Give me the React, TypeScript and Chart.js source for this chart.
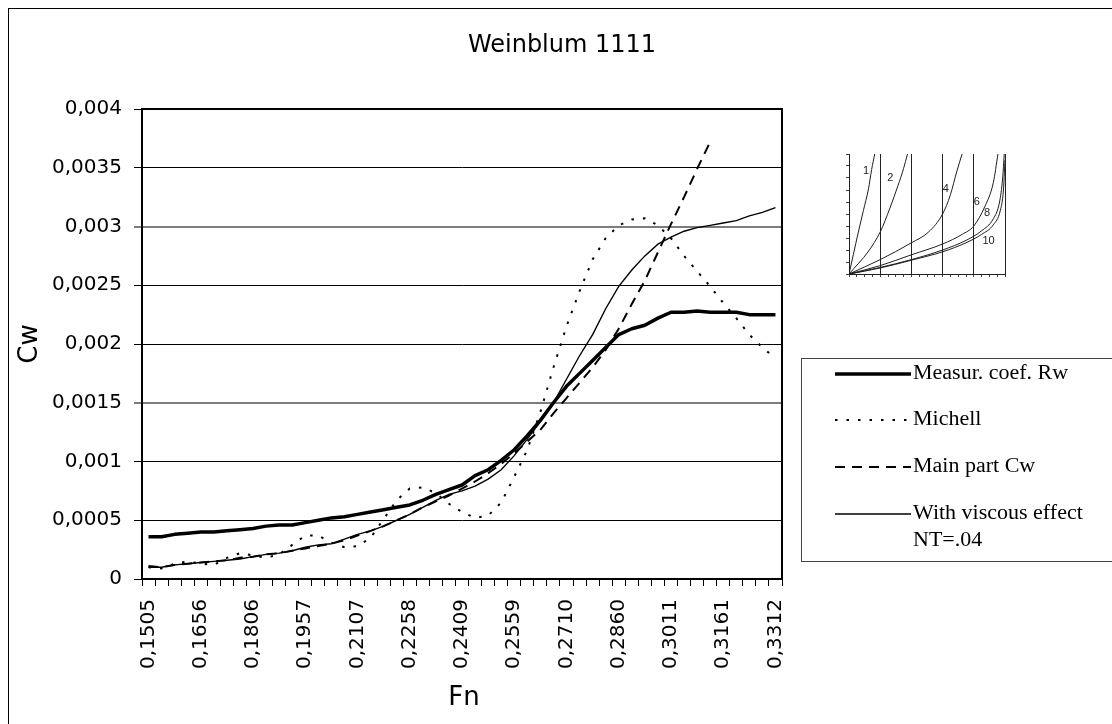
import React, { useEffect, useRef } from 'react';
import { Chart, registerables } from 'chart.js';

Chart.register(...registerables);

// Froude numbers (category axis), every fourth one is labelled
const fnLabels = [
  '0,1505', '0,1543', '0,1580', '0,1618', '0,1656', '0,1693', '0,1731', '0,1769', '0,1806', '0,1844',
  '0,1881', '0,1919', '0,1957', '0,1994', '0,2032', '0,2070', '0,2107', '0,2145', '0,2183', '0,2220',
  '0,2258', '0,2296', '0,2333', '0,2371', '0,2409', '0,2446', '0,2484', '0,2521', '0,2559', '0,2597',
  '0,2634', '0,2672', '0,2710', '0,2747', '0,2785', '0,2823', '0,2860', '0,2898', '0,2936', '0,2973',
  '0,3011', '0,3048', '0,3086', '0,3124', '0,3161', '0,3199', '0,3237', '0,3274', '0,3312',
];

const yTickValues = [0, 0.0005, 0.001, 0.0015, 0.002, 0.0025, 0.003, 0.0035, 0.004];
const yTickLabels = ['0', '0,0005', '0,001', '0,0015', '0,002', '0,0025', '0,003', '0,0035', '0,004'];

// Wave resistance coefficient series
const measured = [
  0.00036, 0.00036, 0.00038, 0.00039, 0.00040, 0.00040, 0.00041, 0.00042, 0.00043, 0.00045,
  0.00046, 0.00046, 0.00048, 0.00050, 0.00052, 0.00053, 0.00055, 0.00057, 0.00059, 0.00061,
  0.00063, 0.00067, 0.00072, 0.00076, 0.00080, 0.00088, 0.00093, 0.00101, 0.00110, 0.00122,
  0.00135, 0.00150, 0.00164, 0.00175, 0.00186, 0.00197, 0.00208, 0.00213, 0.00216, 0.00222,
  0.00227, 0.00227, 0.00228, 0.00227, 0.00227, 0.00227, 0.00225, 0.00225, 0.00225,
];

const michell = [
  0.00010, 0.00009, 0.00013, 0.00015, 0.00013, 0.00012, 0.00018, 0.00022, 0.00020, 0.00018,
  0.00021, 0.00029, 0.00037, 0.00037, 0.00031, 0.00027, 0.00028, 0.00035, 0.00051, 0.00067,
  0.00077, 0.00078, 0.00073, 0.00064, 0.00057, 0.00052, 0.00054, 0.00065, 0.00087, 0.00110,
  0.00142, 0.00180, 0.00215, 0.00245, 0.00272, 0.00290, 0.00301, 0.00306, 0.00307, 0.00301,
  0.00290, 0.00275, 0.00262, 0.00249, 0.00235, 0.00222, 0.00208, 0.00197, 0.00188,
];

const mainPart = [
  0.00011, 0.00010, 0.00012, 0.00013, 0.00014, 0.00015, 0.00016, 0.00018, 0.00019, 0.00021,
  0.00022, 0.00024, 0.00026, 0.00028, 0.00030, 0.00033, 0.00037, 0.00041, 0.00045, 0.00050,
  0.00055, 0.00061, 0.00066, 0.00071, 0.00077, 0.00083, 0.00090, 0.00098, 0.00107, 0.00117,
  0.00127, 0.00141, 0.00154, 0.00167, 0.00180, 0.00195, 0.00213, 0.00234, 0.00254, 0.00278,
  0.00302, 0.00325, 0.00349, 0.00372, null, null, null, null, null,
];

const viscous = [
  0.00010, 0.00010, 0.00012, 0.00013, 0.00014, 0.00015, 0.00016, 0.00017, 0.00019, 0.00021,
  0.00022, 0.00024, 0.00027, 0.00029, 0.00030, 0.00034, 0.00038, 0.00041, 0.00045, 0.00050,
  0.00055, 0.00061, 0.00067, 0.00072, 0.00075, 0.00079, 0.00085, 0.00093, 0.00105, 0.00119,
  0.00134, 0.00150, 0.00170, 0.00190, 0.00208, 0.00230, 0.00249, 0.00263, 0.00275, 0.00285,
  0.00291, 0.00296, 0.00299, 0.00301, 0.00303, 0.00305, 0.00309, 0.00312, 0.00316,
];

const seriesLabels: string[][] = [
  ['Measur. coef. Rw'],
  ['Michell'],
  ['Main part Cw'],
  ['With viscous effect', 'NT=.04'],
];

// Small hull-section sketch: curves 1, 2, 4, 6, 8, 10
const curve1 = [{ x: 0, y: 0 }, { x: 0.55, y: 1.6 }, { x: 1.2, y: 3.5 }, { x: 1.85, y: 5.3 }, { x: 2.5, y: 7.1 }, { x: 2.9, y: 8.7 }, { x: 3.3, y: 10 }];
const curve2 = [{ x: 0, y: 0 }, { x: 2.5, y: 1.9 }, { x: 4, y: 3.5 }, { x: 5.25, y: 5.5 }, { x: 6.3, y: 7.4 }, { x: 7, y: 8.8 }, { x: 7.5, y: 10 }];
const curve4 = [{ x: 0, y: 0 }, { x: 4, y: 1.2 }, { x: 8, y: 2.6 }, { x: 10.2, y: 3.5 }, { x: 12, y: 5.0 }, { x: 13, y: 6.6 }, { x: 13.8, y: 8.5 }, { x: 14.5, y: 10 }];
const curve6 = [{ x: 0, y: 0 }, { x: 4, y: 0.7 }, { x: 8, y: 1.6 }, { x: 12, y: 2.5 }, { x: 14.5, y: 3.3 }, { x: 16, y: 4.0 }, { x: 17.4, y: 5.6 }, { x: 18.5, y: 7.6 }, { x: 19.1, y: 10 }];
const curve8 = [{ x: 0, y: 0 }, { x: 4, y: 0.55 }, { x: 8, y: 1.2 }, { x: 12, y: 2.0 }, { x: 15, y: 2.8 }, { x: 17, y: 3.6 }, { x: 18.5, y: 4.6 }, { x: 19.3, y: 6.0 }, { x: 19.7, y: 8.0 }, { x: 19.9, y: 10 }];
const curve10 = [{ x: 0, y: 0 }, { x: 4, y: 0.5 }, { x: 8, y: 1.15 }, { x: 12, y: 1.85 }, { x: 15, y: 2.6 }, { x: 17, y: 3.3 }, { x: 18.5, y: 4.1 }, { x: 19.4, y: 5.3 }, { x: 19.8, y: 7.0 }, { x: 20, y: 9.5 }];
const curveNames = ['1', '2', '4', '6', '8', '10'];
const curveNamePos = [{ x: 2.2, y: 8.6 }, { x: 5.3, y: 8.0 }, { x: 12.4, y: 7.1 }, { x: 16.4, y: 6.0 }, { x: 17.7, y: 5.1 }, { x: 17.9, y: 2.75 }];

const SANS = '"DejaVu Sans", "Liberation Sans", Arial, sans-serif';
const SERIF = '"Liberation Serif", "Times New Roman", serif';

const decorPlugin = {
  id: 'decor',
  afterDraw(chart: any) {
    const ctx: CanvasRenderingContext2D = chart.ctx;
    const a = chart.chartArea;
    ctx.save();

    // plot area frame
    ctx.strokeStyle = '#000';
    ctx.lineWidth = 2;
    ctx.setLineDash([]);
    ctx.strokeRect(a.left, a.top, a.right - a.left, a.bottom - a.top);

    // chart title and axis titles
    ctx.fillStyle = '#000';
    ctx.textAlign = 'center';
    ctx.textBaseline = 'middle';
    ctx.font = `24px ${SANS}`;
    ctx.fillText('Weinblum 1111', 553, 37);
    ctx.font = `26px ${SANS}`;
    ctx.fillText('Fn', (a.left + a.right) / 2 + 2, 689);
    ctx.save();
    ctx.translate(21, (a.top + a.bottom) / 2);
    ctx.rotate(-Math.PI / 2);
    ctx.fillText('Cw', 0, 0);
    ctx.restore();

    // legend box
    ctx.strokeStyle = '#444';
    ctx.lineWidth = 1;
    ctx.strokeRect(792.5, 349.5, 330, 203);

    const rows = [365, 411, 458, 505];
    chart.data.datasets.forEach((ds: any, i: number) => {
      const y = rows[i];
      ctx.save();
      ctx.strokeStyle = '#000';
      ctx.lineWidth = ds.borderWidth;
      ctx.setLineDash(ds.borderDash || []);
      ctx.beginPath();
      ctx.moveTo(826, y);
      ctx.lineTo(902, y);
      ctx.stroke();
      ctx.restore();
      seriesLabels[i].forEach((txt, k) => {
        ctx.save();
        ctx.translate(904, y + k * 27);
        ctx.scale(1.1, 1);
        ctx.font = `20px ${SERIF}`;
        ctx.fillStyle = '#000';
        ctx.textAlign = 'left';
        ctx.textBaseline = 'middle';
        ctx.fillText(txt, 0, 0);
        ctx.restore();
      });
    });
    ctx.restore();
  },
};

const insetLabelPlugin = {
  id: 'insetLabels',
  afterDraw(chart: any) {
    const ctx: CanvasRenderingContext2D = chart.ctx;
    const xs = chart.scales.x;
    const ys = chart.scales.y;
    ctx.save();
    ctx.fillStyle = '#222';
    ctx.font = `11px "Liberation Sans", Arial, sans-serif`;
    ctx.textAlign = 'center';
    ctx.textBaseline = 'middle';
    curveNames.forEach((n, i) => {
      ctx.fillText(n, xs.getPixelForValue(curveNamePos[i].x), ys.getPixelForValue(curveNamePos[i].y));
    });
    ctx.restore();
  },
};

export default function App() {
  const mainRef = useRef<HTMLCanvasElement>(null);
  const insetRef = useRef<HTMLCanvasElement>(null);

  useEffect(() => {
    document.documentElement.style.overflow = 'hidden';
    const tickFont = { family: SANS, size: 20 };

    const main = new Chart(mainRef.current as HTMLCanvasElement, {
      type: 'line',
      data: {
        labels: fnLabels,
        datasets: [
          { label: seriesLabels[0][0], data: measured, borderColor: '#000', borderWidth: 3.5, pointRadius: 0, borderJoinStyle: 'round', tension: 0 },
          { label: seriesLabels[1][0], data: michell, borderColor: '#000', borderWidth: 2, borderDash: [2.5, 9], pointRadius: 0, tension: 0 },
          { label: seriesLabels[2][0], data: mainPart, borderColor: '#000', borderWidth: 2, borderDash: [10, 7], pointRadius: 0, tension: 0, spanGaps: false },
          { label: seriesLabels[3][0], data: viscous, borderColor: '#000', borderWidth: 1.4, pointRadius: 0, tension: 0 },
        ],
      } as any,
      options: {
        animation: false,
        responsive: false,
        devicePixelRatio: 1,
        events: [],
        layout: { padding: { left: 0, top: 100, right: 330, bottom: 45 } },
        plugins: { legend: { display: false }, title: { display: false }, tooltip: { enabled: false } },
        scales: {
          x: {
            type: 'category',
            offset: true,
            grid: { offset: true, drawOnChartArea: false, drawTicks: true, tickLength: 7, color: '#000', lineWidth: 1 },
            border: { display: true, color: '#000', width: 2 },
            ticks: {
              autoSkip: false,
              minRotation: 90,
              maxRotation: 90,
              padding: 13,
              color: '#000',
              font: tickFont,
              callback: (_v: any, i: number) => (i % 4 === 0 ? fnLabels[i] : ''),
            },
            afterFit: (s: any) => { s.height = 100; },
          },
          y: {
            type: 'linear',
            min: 0,
            max: 0.004,
            afterBuildTicks: (s: any) => { s.ticks = yTickValues.map((v) => ({ value: v })); },
            grid: {
              color: (c: any) => (c.index === 3 || c.index === 6 ? '#7c7c7c' : '#000'),
              lineWidth: (c: any) => (c.index === 3 || c.index === 6 ? 2 : 1),
              tickLength: 8,
              drawTicks: true,
            },
            border: { display: true, color: '#000', width: 2 },
            ticks: {
              padding: 12,
              color: '#000',
              font: tickFont,
              callback: (_v: any, i: number) => yTickLabels[i],
            },
            afterFit: (s: any) => { s.width = 133; },
          },
        },
      } as any,
      plugins: [decorPlugin],
    });

    const curves = [curve1, curve2, curve4, curve6, curve8, curve10];
    const inset = new Chart(insetRef.current as HTMLCanvasElement, {
      type: 'line',
      data: {
        datasets: curves.map((c, i) => ({
          label: curveNames[i],
          data: c,
          borderColor: '#1e1e1e',
          borderWidth: 1,
          pointRadius: 0,
          cubicInterpolationMode: 'monotone',
        })),
      } as any,
      options: {
        animation: false,
        responsive: false,
        devicePixelRatio: 1,
        events: [],
        layout: { padding: { left: 0, top: 10, right: 10, bottom: 0 } },
        plugins: { legend: { display: false }, title: { display: false }, tooltip: { enabled: false } },
        scales: {
          x: {
            type: 'linear',
            min: 0,
            max: 20,
            ticks: { display: false, stepSize: 1 },
            grid: {
              color: (c: any) => (c.tick && c.tick.value % 4 === 0 ? '#222' : 'rgba(0,0,0,0)'),
              tickColor: '#444',
              tickLength: 3,
              lineWidth: 1,
            },
            border: { display: true, color: '#222', width: 1 },
            afterFit: (s: any) => { s.height = 10; },
          },
          y: {
            type: 'linear',
            min: 0,
            max: 10,
            ticks: { display: false, stepSize: 1 },
            grid: { drawOnChartArea: false, tickColor: '#444', tickLength: 3 },
            border: { display: true, color: '#222', width: 1 },
            afterFit: (s: any) => { s.width = 10; },
          },
        },
      } as any,
      plugins: [insetLabelPlugin],
    });

    return () => {
      main.destroy();
      inset.destroy();
    };
  }, []);

  return (
    <div
      style={{
        position: 'fixed',
        left: 8,
        top: 8,
        width: 1104,
        height: 716,
        borderLeft: '1px solid #000',
        borderTop: '1px solid #000',
        background: '#fff',
        overflow: 'hidden',
      }}
    >
      <canvas ref={mainRef} width={1103} height={715} style={{ position: 'absolute', left: 0, top: 0, width: 1103, height: 715 }} />
      <canvas ref={insetRef} width={176} height={140} style={{ position: 'absolute', left: 830, top: 135, width: 176, height: 140 }} />
    </div>
  );
}
